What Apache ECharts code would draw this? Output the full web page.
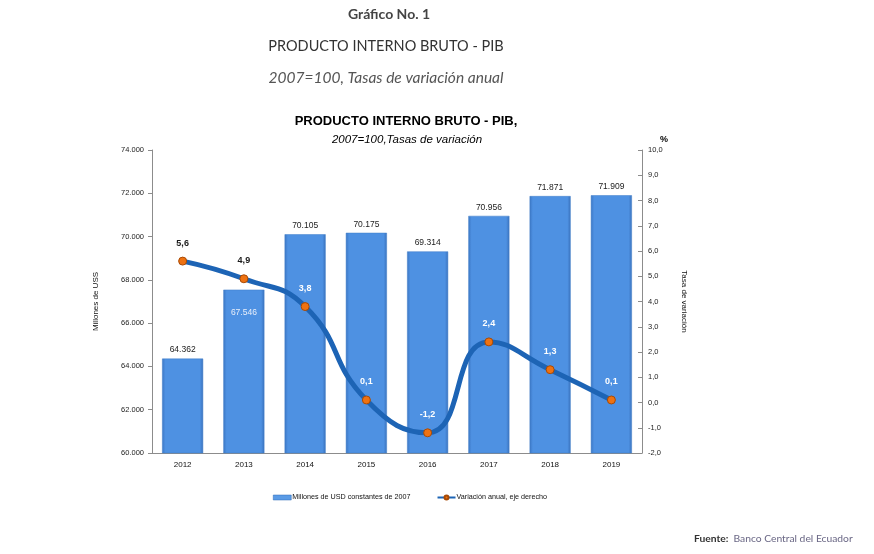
<!DOCTYPE html>
<html><head><meta charset="utf-8">
<script src="https://cdn.jsdelivr.net/npm/echarts@6/dist/echarts.min.js"></script>
<style>html,body{margin:0;padding:0;background:#fff}#c{width:874px;height:554px}</style>
</head><body><div id="c"></div>
<script>
const years = ['2012','2013','2014','2015','2016','2017','2018','2019'];
const pibMillones = [64362, 67546, 70105, 70175, 69314, 70956, 71871, 71909];
const variacion = [5.6, 4.9, 3.8, 0.1, -1.2, 2.4, 1.3, 0.1];
const barName = 'Millones de USD constantes de 2007';
const lineName = 'Variación anual, eje derecho';

function fmtThousands(v){ return String(v).replace(/\B(?=(\d{3})+(?!\d))/g,'.'); }
function fmtComma(v){ return v.toFixed(1).replace('.',','); }

const chart = echarts.init(document.getElementById('c'));
const ff = '"Liberation Sans", Arial, sans-serif';
const tf = 'Lato, "Open Sans", sans-serif';
const barData = pibMillones.map((v,i)=>({
  value:v,
  label: i===1 ? {position:'insideTop', distance:18, color:'#e8eefa'} : {}
}));
const lineData = variacion.map((v,i)=>({
  value:v,
  label: i<2 ? {color:'#1a1a1a'} : {color:'#ffffff'}
}));
chart.setOption({
  animation:false,
  textStyle:{fontFamily:ff},
  title:[
    {text:'Gráfico No. 1', left:384, textAlign:'center', top:2, textStyle:{fontFamily:tf, fontSize:14, fontWeight:'bold', color:'#444'}},
    {text:'PRODUCTO INTERNO BRUTO - PIB', left:381, textAlign:'center', top:34, textStyle:{fontFamily:tf, fontSize:14.5, fontWeight:'normal', color:'#333'}},
    {text:'2007=100, Tasas de variación anual', left:381, textAlign:'center', top:65, textStyle:{fontFamily:tf, fontSize:15.5, fontStyle:'italic', fontWeight:'normal', color:'#555'}},
    {text:'PRODUCTO INTERNO BRUTO - PIB,', left:401, textAlign:'center', top:110, textStyle:{fontFamily:ff, fontSize:13, fontWeight:'bold', color:'#000'}},
    {text:'2007=100,Tasas de variación', left:402, textAlign:'center', top:129, textStyle:{fontFamily:ff, fontSize:11.5, fontStyle:'italic', fontWeight:'normal', color:'#000'}},
    {text:'%', left:655, top:130, textStyle:{fontFamily:ff, fontSize:9, fontWeight:'bold', color:'#000'}},
    {text:'{b|Fuente:} {n|Banco Central del Ecuador}', left:689, top:525, textStyle:{rich:{
      b:{fontFamily:tf, fontSize:10.3, fontWeight:'bold', color:'#333'},
      n:{fontFamily:tf, fontSize:10.3, fontWeight:'normal', color:'#6a6785'}}}}
  ],
  legend:{
    top:489, left:268, itemGap:26, itemWidth:18, itemHeight:5,
    textStyle:{fontSize:7.2, color:'#111', fontFamily:ff, padding:[0,0,0,-4]},
    data:[{name:barName, icon:'rect', itemStyle:{color:'#5a9be6', borderColor:'#2f6ab5', borderWidth:0.5}},{name:lineName}]
  },
  grid:{left:152, right:232, top:150, bottom:101},
  xAxis:{
    type:'category', data:years,
    axisLine:{onZero:false, lineStyle:{color:'#8c8c8c'}},
    axisTick:{lineStyle:{color:'#8c8c8c'}, length:4},
    axisLabel:{fontSize:8, color:'#111', margin:8}
  },
  yAxis:[
    {type:'value', min:60000, max:74000, interval:2000, position:'left',
     name:'Millones de USS', nameLocation:'middle', nameGap:52, nameTextStyle:{fontSize:8, color:'#111'},
     axisLine:{show:true, lineStyle:{color:'#8c8c8c'}},
     axisTick:{show:true, length:4, lineStyle:{color:'#8c8c8c'}},
     splitLine:{show:false},
     axisLabel:{fontSize:7.5, color:'#222', margin:8, formatter:v=>fmtThousands(v)}},
    {type:'value', min:-2, max:10, interval:1, position:'right',
     name:'Tasa de variación', nameLocation:'middle', nameGap:38, nameRotate:-90, nameTextStyle:{fontSize:8, color:'#111'},
     axisLine:{show:true, lineStyle:{color:'#8c8c8c'}},
     axisTick:{show:true, inside:true, length:4, lineStyle:{color:'#8c8c8c'}},
     splitLine:{show:false},
     axisLabel:{fontSize:7.5, color:'#222', margin:6, formatter:v=>fmtComma(v)}}
  ],
  series:[
    {name:barName, type:'bar', yAxisIndex:0, barWidth:'67%', data:barData,
     itemStyle:{
       color:new echarts.graphic.LinearGradient(0,0,1,0,[
         {offset:0,color:'#3b76c4'},{offset:0.08,color:'#4e91e2'},{offset:0.92,color:'#4e91e2'},{offset:1,color:'#3a72bd'}]),
       borderColor:'#3e7cc9', borderWidth:0.5
     },
     label:{show:true, position:'top', fontSize:8.5, color:'#222', distance:4, formatter:p=>fmtThousands(p.value)}
    },
    {name:lineName, type:'line', yAxisIndex:1, smooth:0.5, data:lineData,
     symbol:'circle', symbolSize:8,
     lineStyle:{color:'#1d64b5', width:5},
     itemStyle:{color:'#ee7212', borderColor:'#a84a05', borderWidth:1},
     label:{show:true, position:'top', distance:9, fontSize:9, fontWeight:'bold', formatter:p=>fmtComma(p.value)},
     z:5}
  ]
});
</script></body></html>
